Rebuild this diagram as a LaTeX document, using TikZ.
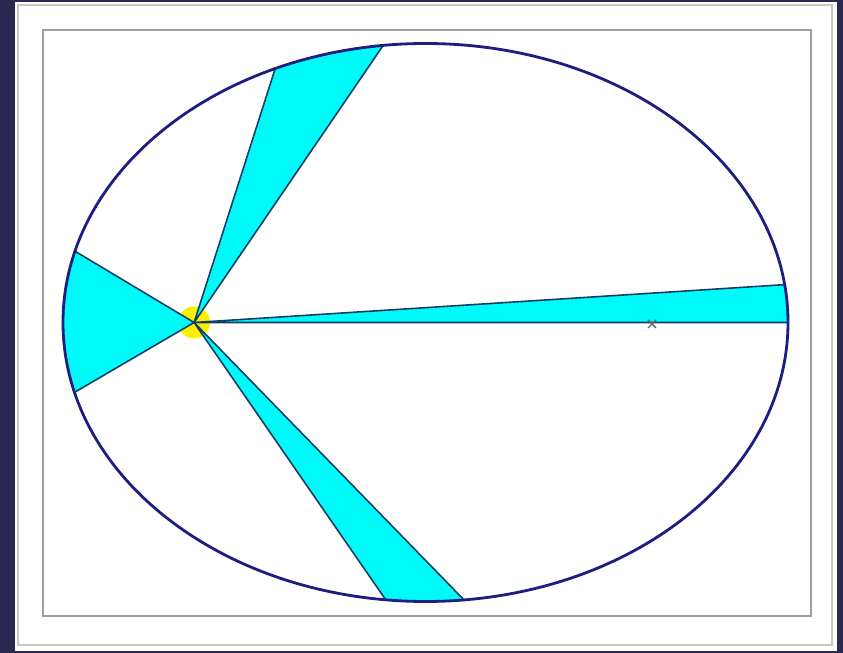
\documentclass[tikz,border=0pt]{standalone}
\usepackage{tikz}

\definecolor{bgnavy}{RGB}{44,41,80}
\definecolor{orbitblue}{RGB}{30,30,130}
\definecolor{edgeteal}{RGB}{20,60,100}
\definecolor{sweptcyan}{RGB}{0,250,250}
\definecolor{sunyellow}{RGB}{250,240,0}

\begin{document}
\begin{tikzpicture}[x=0.02cm, y=0.02cm,
        sector/.style={fill=sweptcyan, draw=edgeteal, line width=0.9pt, line join=round},
        orbit/.style={draw=orbitblue, line width=1.6pt},
        frameline/.style={draw=black!22, line width=1.1pt},
        boxline/.style={draw=black!38, line width=1.1pt}]
        % Background and frames
        \fill[bgnavy] (0,0) rectangle (843,653);
        \fill[white] (15,2) rectangle (837,651);
        \draw[frameline] (18,8) rectangle (832,648);
        \draw[boxline] (43,37) rectangle (811,623);

        % Centre and foci
        \coordinate (centre) at (425.5,330.5);
        \coordinate (sun) at (194.1,330.5);
        \coordinate (focus) at (652,329);

        % Sun
        \fill[sunyellow] (sun) circle[radius=16];

        % Swept areas
        \fill[sector] (sun) -- ([shift={(centre)}]0:362.5 and 279) arc[start angle=0, end angle=7.8, x radius=362.5, y radius=279] -- cycle;
        \fill[sector] (sun) -- ([shift={(centre)}]96.7:362.5 and 279) arc[start angle=96.7, end angle=114.5, x radius=362.5, y radius=279] -- cycle;
        \fill[sector] (sun) -- ([shift={(centre)}]165.2:362.5 and 279) arc[start angle=165.2, end angle=194.5, x radius=362.5, y radius=279] -- cycle;
        \fill[sector] (sun) -- ([shift={(centre)}]263.7:362.5 and 279) arc[start angle=263.7, end angle=276.1, x radius=362.5, y radius=279] -- cycle;

        % Orbit
        \draw[orbit] (centre) ellipse[x radius=362.5, y radius=279];

        % Empty focus
        \draw[black!60, line width=0.8pt] ([shift={(-4,-4)}]focus) -- ([shift={(4,4)}]focus)
            ([shift={(-4,4)}]focus) -- ([shift={(4,-4)}]focus);
    \end{tikzpicture}
\end{document}
